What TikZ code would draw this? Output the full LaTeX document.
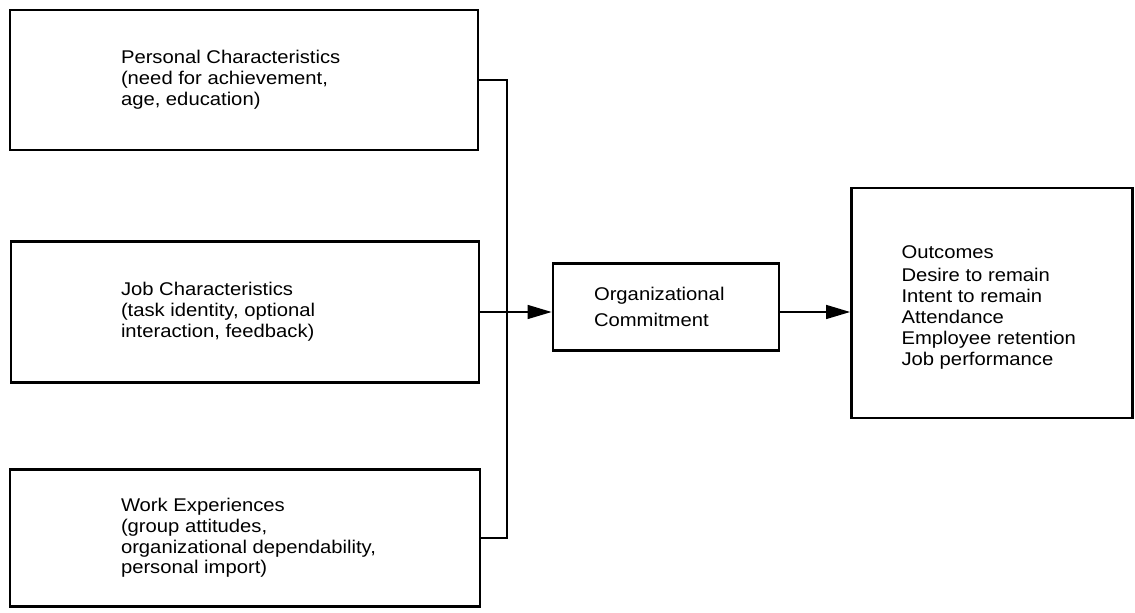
\documentclass[tikz,border=0pt]{standalone}
\usepackage{fontspec}
\setmainfont[FakeStretch=1.1]{Liberation Sans}
\usetikzlibrary{arrows.meta,positioning}

\begin{document}
\begin{tikzpicture}[x=0.5pt,y=-0.5pt]
    \tikzset{box/.style = {draw,line width=1.4pt,inner sep=0pt}}
    \tikzset{txt/.style = {align=left,inner sep=0pt,font=\fontsize{9.2}{10.4}\selectfont}}
    \tikzset{line/.style = {line width=0.7pt}}
    \tikzset{edge/.style = {line width=0.7pt,-{Triangle[length=12pt,width=7pt]}}}
    \useasboundingbox (0,0) rectangle (1135,613);
    % boxes
    \node[box,minimum width=234pt,minimum height=70pt] (pers) at (244,80) {};
    \node[box,minimum width=234pt,minimum height=70.5pt] (job) at (245,312) {};
    \node[box,minimum width=235pt,minimum height=68.5pt] (work) at (245,538) {};
    \node[box,minimum width=113pt,minimum height=43.5pt] (org) at (666,307) {};
    \node[box,minimum width=140.5pt,minimum height=115pt] (outc) at (992,303) {};
    % texts
    \node[txt,right=56pt of pers.west] (perst) {Personal Characteristics\\(need for achievement,\\age, education)};
    \node[txt,right=55.5pt of job.west] (jobt) {Job Characteristics\\(task identity, optional\\interaction, feedback)};
    \node[txt,right=56pt of work.west] (workt) {Work Experiences\\(group attitudes,\\organizational dependability,\\personal import)};
    \node[txt,right=21pt of org.west] (orgt) {Organizational\\[3pt]Commitment};
    \node[txt,right=25.5pt of outc.west,yshift=-2pt] (outct) {Outcomes\\[1.5pt]Desire to remain\\Intent to remain\\Attendance\\Employee retention\\Job performance};
    % edges
    \coordinate (bus) at (507,312);
    \draw[line] (pers.east) -| (bus) |- (work.east);
    \draw[edge] (job.east) -- (job.east -| org.west);
    \draw[edge] (org.east |- job.east) -- (job.east -| outc.west);
\end{tikzpicture}
\end{document}
